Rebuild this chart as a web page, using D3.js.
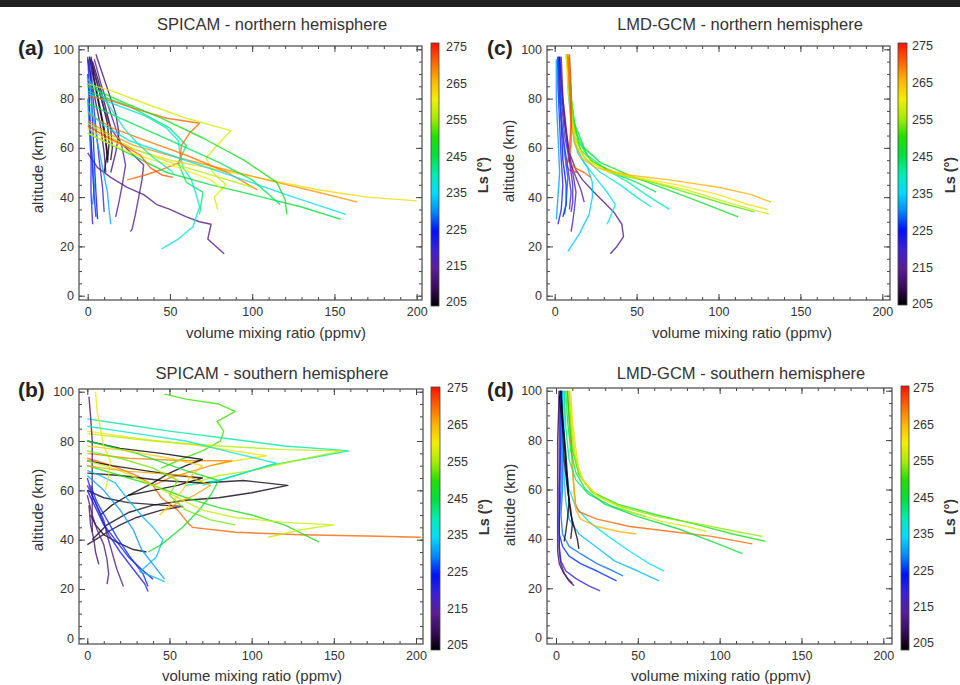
<!DOCTYPE html>
<html><head><meta charset="utf-8">
<script src="https://cdn.jsdelivr.net/npm/d3@7"></script>
<style>body{margin:0;background:#fff} text{font-family:"Liberation Sans",Arial,Helvetica,sans-serif}</style>
</head><body><svg id="chart" width="960" height="685"></svg>
<script>
// ---------- data ----------
const xTicks = [0, 50, 100, 150, 200];
const yTicks = [0, 20, 40, 60, 80, 100];
const lsTicks = [205, 215, 225, 235, 245, 255, 265, 275];
const panelTitles = ["SPICAM - northern hemisphere", "SPICAM - southern hemisphere", "LMD-GCM - northern hemisphere", "LMD-GCM - southern hemisphere"];
const panelLetters = ["(a)", "(b)", "(c)", "(d)"];
const xTitle = "volume mixing ratio (ppmv)";
const yTitle = "altitude (km)";
const cbTitle = "Ls (°)";

// each profile: [Ls, [[vmr, altitude], ...]]
const spicamNorth = [
  [205, [[1,97],[3,90],[6,80],[9,70],[11,62],[12,55]]],
  [206, [[2,96],[5,88],[9,78],[12,70],[13,62],[12,54]]],
  [208, [[3,95],[7,86],[11,76],[14,68],[15,60],[14,55]]],
  [207, [[2,97],[4,88],[7,78],[10,68],[12,58],[10,50]]],
  [212, [[5,98],[9,90],[13,82],[17,74],[19,66],[17,58],[14,50]]],
  [210, [[0,96],[2,88],[5,78],[8,68],[10,58],[11,50]]],
  [214, [[2,96],[6,86],[10,76],[14,68],[20,62],[28,57],[34,53],[33,47],[31,40],[29,33],[27,27],[26,26]]],
  [216, [[4,96],[8,86],[13,76],[17,68],[21,60],[23,53],[21,45],[19,38],[17,32]]],
  [213, [[0,58],[6,52],[14,48],[24,44],[34,41],[42,37],[50,35],[60,32],[68,30],[75,29],[73,23],[78,20],[83,17]]],
  [221, [[0,97],[1,85],[1,70],[2,55],[2,42],[3,29]]],
  [224, [[1,96],[2,85],[3,70],[4,55],[5,42],[6,31]]],
  [219, [[2,95],[3,82],[5,68],[7,55],[9,44],[10,34]]],
  [230, [[0,80],[1,68],[3,55],[4,45],[3,37]]],
  [232, [[1,86],[3,74],[6,62],[9,52],[12,42],[13,35],[14,29]]],
  [226, [[0,90],[1,78],[2,64],[3,50],[4,40],[5,32]]],
  [237, [[0,82],[15,78],[35,73],[48,68],[55,63],[56,58],[58,52],[63,47],[66,41],[68,36],[64,28],[55,23],[45,19]]],
  [243, [[0,83],[25,77],[50,68],[60,61],[55,54],[60,46],[70,42],[68,33]]],
  [270, [[0,81],[15,79],[28,76],[48,72],[68,70],[62,66],[57,61],[56,54],[44,51],[35,49],[24,47]]],
  [258, [[0,86],[15,83],[35,78],[60,72],[87,67],[80,62],[72,56],[76,50],[84,45],[77,40],[79,35]]],
  [262, [[0,68],[10,64],[25,60],[50,55],[80,51],[110,47],[140,43],[170,40],[200,38.5]]],
  [267, [[0,71],[12,66],[28,61],[55,56],[85,51],[115,46],[140,42],[164,38]]],
  [269, [[0,74],[15,68],[35,63],[60,57],[85,50],[103,43]]],
  [236, [[0,75],[10,69],[25,63],[55,56],[95,47],[125,40],[157,33]]],
  [245, [[0,66],[15,61],[30,56],[48,50],[75,45],[100,41],[130,36],[154,31]]],
  [248, [[0,85],[20,79],[45,72],[70,64],[95,55],[115,46],[120,39],[121,33]]],
  [244, [[0,78],[20,72],[50,63],[80,54],[100,47],[117,37]]],
  [256, [[0,70],[15,64],[30,59],[55,53],[80,48],[100,44]]],
  [260, [[0,66],[12,62],[30,57],[55,52],[75,47],[82,43]]],
  [271, [[0,69],[10,65],[22,61],[32,57],[38,52],[45,49],[52,48]]],
  [240, [[0,88],[8,82],[15,75],[22,68],[30,62],[40,56],[52,50]]]
];

const spicamSouth = [
  [251, [[47,99],[60,97],[80,95],[90,92],[79,88],[83,84],[81,80],[70,76],[55,72],[45,69]]],
  [241, [[0,89],[20,87],[50,84],[85,81],[120,78],[150,76.5],[159,76],[135,73],[110,70],[95,67],[80,64],[60,62]]],
  [261, [[0,84],[30,81],[70,78],[109,74],[90,72],[75,70]]],
  [256, [[0,83],[40,80],[80,78],[120,76.5],[155,76],[140,74],[120,71],[100,68],[80,66],[65,63]]],
  [268, [[0,75],[25,73],[60,72],[88,72],[75,70],[65,68],[50,65],[40,62]]],
  [270, [[0,73],[15,70],[30,66],[40,62],[45,57],[55,52],[61,47],[64,45],[90,43],[130,42],[170,41.5],[203,41]]],
  [205, [[0,80],[20,77],[45,75],[70,72.5],[60,70],[50,67],[40,63],[25,58]]],
  [206, [[0,67],[20,66],[45,64],[70,63],[95,64],[122,62],[100,59],[80,57],[60,56],[40,54],[25,51],[12,46],[3,40]]],
  [207, [[0,60],[10,57],[25,55],[45,54],[58,53.5],[45,52],[30,49],[20,46],[12,43],[5,40],[0,38]]],
  [206, [[2,50],[5,46],[10,42],[18,39],[28,36],[36,35]]],
  [205, [[0,72],[15,70],[35,68],[55,66],[70,65],[55,62],[40,60],[25,58],[15,54],[8,50]]],
  [212, [[1,98],[2,90],[3,80],[3,70],[3,60],[3,50],[3,43]]],
  [214, [[0,62],[5,55],[10,48],[12,42],[15,35],[18,28],[22,21]]],
  [213, [[0,58],[3,50],[6,44],[10,38],[12,32],[13,26],[12,22]]],
  [211, [[1,54],[2,46],[4,40],[5,35],[7,30]]],
  [222, [[0,65],[3,58],[8,50],[13,42],[20,35],[28,28],[35,22],[37,19]]],
  [224, [[0,60],[5,53],[10,46],[17,40],[25,33],[33,28],[40,24]]],
  [226, [[2,62],[6,55],[12,48],[18,41],[26,33],[34,26],[37,21]]],
  [233, [[0,68],[8,66],[17,63],[25,56],[34,49],[40,45],[46,40],[42,33],[32,27],[40,25],[47,23]]],
  [231, [[0,66],[10,60],[20,52],[28,44],[33,36],[40,30],[47,24]]],
  [247, [[0,80],[30,75],[60,68],[80,64],[75,58],[68,52],[58,45],[45,38],[37,35]]],
  [249, [[0,70],[20,66],[40,62],[60,57],[80,53],[100,50],[120,46],[141,39]]],
  [257, [[0,72],[20,68],[40,62],[55,57],[70,52],[90,49],[120,47],[150,46],[130,44],[110,41]]],
  [261, [[5,100],[6,92],[8,85],[10,78],[14,72],[13,66],[11,60]]],
  [238, [[0,86],[30,83],[60,80],[90,75],[115,71],[100,68],[85,65],[70,62]]],
  [266, [[0,70],[20,68],[40,67],[60,66],[75,62],[65,58],[55,55],[48,52]]],
  [263, [[0,78],[25,76],[50,73],[70,70],[62,65],[58,60],[50,54],[44,50]]],
  [253, [[0,76],[20,73],[40,69],[55,64],[50,58],[60,52],[75,48],[90,46]]]
];

const gcmNorth = [
  [213, [[3,97],[4,85],[6,70],[9,58],[13,51],[17,47],[24,42],[30,38],[36,34],[41,29],[42,24],[38,20],[34,17]]],
  [215, [[2,97],[4,80],[6,65],[9,55],[13,48],[16,43],[18,38]]],
  [217, [[3,97],[5,80],[8,62],[11,50],[13,42],[12,35],[11,30],[10,26]]],
  [234, [[8,97],[8,85],[10,70],[14,58],[20,52],[23,46],[23,40],[21,33],[15,25],[8,18]]],
  [236, [[8,97],[9,80],[12,62],[18,54],[26,47],[32,42],[37,37],[34,32],[32,29]]],
  [238, [[8,97],[9,80],[12,65],[18,56],[28,50],[40,45],[50,40],[59,36]]],
  [240, [[9,97],[10,80],[13,66],[20,57],[32,51],[45,46],[58,40],[70,35]]],
  [244, [[8,97],[9,85],[11,72],[15,62],[22,55],[35,50],[50,46],[62,42]]],
  [247, [[7,98],[9,85],[12,70],[18,60],[28,54],[45,49],[65,44],[85,39],[112,32]]],
  [252, [[8,97],[10,82],[12,68],[16,59],[24,54],[40,49],[60,46],[85,41],[105,37],[122,34]]],
  [257, [[7,97],[9,84],[11,70],[14,60],[20,55],[33,50],[55,47],[80,43],[105,38],[131,33]]],
  [261, [[7,98],[8,85],[10,72],[13,62],[18,56],[30,51],[50,48],[75,45],[100,41],[118,37],[130,35]]],
  [265, [[8,98],[9,85],[10,72],[12,62],[16,56],[25,52],[45,49],[70,47],[100,44],[120,41],[132,38]]],
  [270, [[8,98],[9,85],[10,70],[9,60],[8,55],[12,52],[18,50],[22,48]]],
  [272, [[9,98],[10,85],[10,72],[10,62],[9,56],[7,53],[9,51],[14,50]]],
  [222, [[2,97],[2,85],[3,70],[4,55],[5,45],[4,35],[2,29]]],
  [225, [[3,97],[3,85],[4,70],[5,55],[7,45],[7,37],[5,32]]],
  [220, [[2,95],[3,80],[5,65],[8,52],[10,42],[9,35]]],
  [231, [[1,96],[1,80],[2,65],[3,50],[2,40],[1,31]]],
  [218, [[4,97],[5,80],[7,65],[9,55],[11,45],[11,38],[10,34]]],
  [228, [[2,97],[3,85],[4,72],[6,58],[8,48],[7,38],[6,33]]]
];

const gcmSouth = [
  [210, [[2,100],[1,80],[1,60],[1,45],[1,35],[2,30],[4,27],[7,24],[10,22]]],
  [212, [[2,100],[2,80],[2,60],[2,45],[2,35],[3,30],[5,26],[8,23],[11,21]]],
  [221, [[3,100],[3,80],[2,60],[2,45],[2,37],[3,31],[6,27],[12,24],[20,21],[27,19]]],
  [226, [[3,100],[3,80],[3,60],[2,48],[2,42],[4,37],[8,33],[15,30],[25,27],[37,23]]],
  [229, [[4,100],[4,80],[4,60],[3,50],[4,42],[8,37],[15,34],[25,30],[35,27],[41,25]]],
  [233, [[4,100],[4,80],[5,65],[6,55],[8,48],[14,42],[24,37],[36,31],[50,27],[63,23]]],
  [236, [[5,100],[5,85],[6,70],[8,60],[12,53],[20,47],[32,41],[45,35],[57,30],[66,27]]],
  [205, [[3,100],[4,90],[5,80],[6,70],[7,62],[8,55],[9,50],[11,45],[13,40],[14,36]]],
  [206, [[3,100],[4,88],[6,75],[7,65],[8,55],[7,48],[6,43],[5,39]]],
  [207, [[2,98],[4,85],[5,72],[7,60],[9,52],[10,46],[9,40]]],
  [270, [[7,100],[8,90],[9,80],[10,70],[11,60],[12,54],[14,51],[25,48],[45,45],[70,43],[95,41],[120,38]]],
  [265, [[8,100],[9,85],[10,70],[11,60],[12,52],[15,48],[25,45],[38,43],[49,42]]],
  [243, [[5,100],[6,85],[8,72],[12,64],[20,58],[35,53],[55,49]]],
  [246, [[6,100],[7,88],[9,76],[12,67],[18,60],[30,54],[50,49],[75,44],[95,39],[114,34]]],
  [249, [[7,100],[8,88],[10,76],[14,66],[22,59],[38,54],[60,50],[85,46],[108,42],[128,39]]],
  [254, [[8,100],[9,87],[11,75],[15,65],[24,58],[40,53],[62,49],[88,46],[110,43],[126,41]]],
  [258, [[8,100],[10,85],[12,73],[16,64],[26,57],[45,51],[65,47],[80,45],[92,43]]],
  [262, [[9,100],[10,88],[12,77],[14,68],[18,62],[25,58]]]
];

// ---------- drawing ----------
const svg = d3.select("#chart");
svg.append("rect").attr("width", 960).attr("height", 685).attr("fill", "#fff");
svg.append("rect").attr("width", 960).attr("height", 7).attr("fill", "#202020");

const lsColor = d3.scaleLinear()
  .domain([205, 210, 215, 220, 225, 230, 235, 240, 245, 250, 255, 260, 265, 270, 275])
  .range(["#000000", "#3a0c5e", "#5b1e98", "#3a20d8", "#0010ff", "#0088ff", "#00dcff", "#00eeb0", "#00e040", "#20e000", "#a8ec00", "#f2f000", "#ffb400", "#ff6400", "#ff1000"]);

const defs = svg.append("defs");
const grad = defs.append("linearGradient").attr("id", "lsgrad").attr("x1", 0).attr("y1", 1).attr("x2", 0).attr("y2", 0);
d3.range(205, 275.01, 1).forEach(v => {
  grad.append("stop").attr("offset", (v - 205) / 70).attr("stop-color", lsColor(v));
});

const panels = [
  {key: "a", idx: 0, data: spicamNorth, frame: [79, 46, 422, 300], x: [87.7, 416.7], y: [295.7, 49.3],
   cbar: [431, 43, 439, 306], cbl: [302, 47], cblX: 446, title: [272, 30], letter: [18, 55],
   xt: [276, 338], yt: [37.5, 172], ls: [483, 175]},
  {key: "c", idx: 2, data: gcmNorth, frame: [547, 46, 890, 300], x: [554.7, 882.3], y: [295.7, 49.3],
   cbar: [898, 43, 907, 305], cbl: [304, 46], cblX: 912, title: [740, 30], letter: [487, 55],
   xt: [742, 338], yt: [509, 161], ls: [950, 175]},
  {key: "b", idx: 1, data: spicamSouth, frame: [79, 389, 423, 644], x: [87.3, 416], y: [638.3, 391.7],
   cbar: [431, 387, 440, 650], cbl: [645, 388], cblX: 447, title: [272, 378.5], letter: [18, 397],
   xt: [252, 681], yt: [37.5, 510], ls: [484, 517]},
  {key: "d", idx: 3, data: gcmSouth, frame: [547, 388, 892, 644], x: [556, 883.3], y: [637.7, 390.7],
   cbar: [901, 386, 909, 650], cbl: [643, 388], cblX: 913, title: [741, 378.5], letter: [487, 397],
   xt: [721, 681], yt: [510, 505], ls: [950, 517]}
];

const FONT = '"Liberation Sans",Arial,Helvetica,sans-serif';
const TXT = "#333";

function styleAxis(g) {
  g.select(".domain").remove();
  g.attr("font-family", FONT).attr("font-size", 12.5).attr("color", "#444");
  g.selectAll("text").attr("fill", TXT);
}

panels.forEach(p => {
  const [fx0, fy0, fx1, fy1] = p.frame;
  const x = d3.scaleLinear().domain([0, 200]).range(p.x);
  const y = d3.scaleLinear().domain([0, 100]).range(p.y);
  const g = svg.append("g");

  defs.append("clipPath").attr("id", "clip" + p.key)
    .append("rect").attr("x", fx0).attr("y", fy0).attr("width", fx1 - fx0).attr("height", fy1 - fy0);

  const line = d3.line().x(d => x(d[0])).y(d => y(d[1])).curve(d3.curveLinear);
  g.append("g").attr("clip-path", `url(#clip${p.key})`)
    .selectAll("path").data(p.data).join("path")
    .attr("d", d => line(d[1]))
    .attr("fill", "none")
    .attr("stroke", d => lsColor(d[0]))
    .attr("stroke-width", 1.4)
    .attr("stroke-opacity", 0.8)
    .attr("stroke-linejoin", "round");

  const minorX = d3.range(0, 201, 10);
  const minorY = d3.range(0, 101, 5);

  // minor ticks (inward) on all four sides
  g.append("g").attr("transform", `translate(0,${fy1})`)
    .call(d3.axisBottom(x).tickValues(minorX).tickSize(-3).tickFormat("")).call(styleAxis);
  g.append("g").attr("transform", `translate(0,${fy0})`)
    .call(d3.axisTop(x).tickValues(minorX).tickSize(-3).tickFormat("")).call(styleAxis);
  g.append("g").attr("transform", `translate(${fx0},0)`)
    .call(d3.axisLeft(y).tickValues(minorY).tickSize(-3).tickFormat("")).call(styleAxis);
  g.append("g").attr("transform", `translate(${fx1},0)`)
    .call(d3.axisRight(y).tickValues(minorY).tickSize(-3).tickFormat("")).call(styleAxis);

  // major ticks with labels
  g.append("g").attr("transform", `translate(0,${fy1})`)
    .call(d3.axisBottom(x).tickValues(xTicks).tickSize(-6).tickPadding(7).tickFormat(d3.format("d"))).call(styleAxis);
  g.append("g").attr("transform", `translate(0,${fy0})`)
    .call(d3.axisTop(x).tickValues(xTicks).tickSize(-6).tickFormat("")).call(styleAxis);
  g.append("g").attr("transform", `translate(${fx0},0)`)
    .call(d3.axisLeft(y).tickValues(yTicks).tickSize(-6).tickPadding(5).tickFormat(d3.format("d"))).call(styleAxis);
  g.append("g").attr("transform", `translate(${fx1},0)`)
    .call(d3.axisRight(y).tickValues(yTicks).tickSize(-6).tickFormat("")).call(styleAxis);

  // frame
  g.append("rect").attr("x", fx0).attr("y", fy0).attr("width", fx1 - fx0).attr("height", fy1 - fy0)
    .attr("fill", "none").attr("stroke", "#555").attr("stroke-width", 1.3);

  // colorbar
  const [cx0, cy0, cx1, cy1] = p.cbar;
  g.append("rect").attr("x", cx0).attr("y", cy0).attr("width", cx1 - cx0).attr("height", cy1 - cy0)
    .attr("fill", "url(#lsgrad)").attr("stroke", "#444").attr("stroke-width", 0.8);
  const cb = d3.scaleLinear().domain([205, 275]).range(p.cbl);
  g.append("g").selectAll("text").data(lsTicks).join("text")
    .attr("x", p.cblX).attr("y", d => cb(d)).attr("dy", "0.35em")
    .attr("font-size", 12.5).attr("fill", TXT).text(d => d);

  // texts
  g.append("text").attr("x", p.title[0]).attr("y", p.title[1]).attr("text-anchor", "middle")
    .attr("font-size", 16.5).attr("fill", TXT).text(panelTitles[p.idx]);
  g.append("text").attr("x", p.letter[0]).attr("y", p.letter[1])
    .attr("font-size", 21).attr("font-weight", "bold").attr("fill", "#222").text(panelLetters[p.idx]);
  g.append("text").attr("x", p.xt[0]).attr("y", p.xt[1]).attr("text-anchor", "middle")
    .attr("font-size", 15).attr("fill", TXT).text(xTitle);
  g.append("text").attr("transform", `translate(${p.yt[0]},${p.yt[1]}) rotate(-90)`)
    .attr("text-anchor", "middle").attr("dy", "0.35em")
    .attr("font-size", 15).attr("fill", TXT).text(yTitle);
  g.append("text").attr("transform", `translate(${p.ls[0]},${p.ls[1]}) rotate(-90)`)
    .attr("text-anchor", "middle").attr("dy", "0.35em")
    .attr("font-size", 14.5).attr("font-weight", "bold").attr("fill", TXT).text(cbTitle);
});
</script>
</body></html>
